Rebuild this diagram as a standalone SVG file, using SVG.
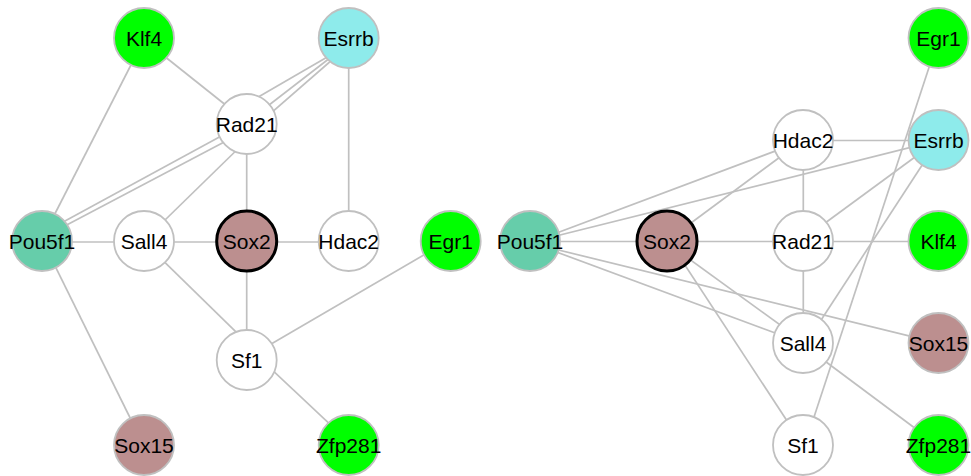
<svg xmlns="http://www.w3.org/2000/svg" width="971" height="476" viewBox="0 0 971 476">
<style>
.e{stroke:#c0c0c0;stroke-width:1.7;fill:none}
.n{stroke:#c0c0c0;stroke-width:1.8}
.w{fill:#ffffff}
.g{fill:#00ff00}
.c{fill:#8eebeb}
.t{fill:#66cdaa}
.r{fill:#bc8f8f}
.s{fill:#bc8f8f;stroke:#000000;stroke-width:3}
text{font-family:"Liberation Sans",Arial,sans-serif;font-size:21px;fill:#000;text-anchor:middle}
</style>
<rect width="971" height="476" fill="#ffffff"/>
<g id="edges">
<!-- left -->
<line class="e" x1="144" y1="40" x2="247" y2="122"/>
<line class="e" x1="145" y1="37.5" x2="41" y2="241"/>
<line class="e" x1="348" y1="45" x2="247" y2="103.5"/>
<line class="e" x1="348" y1="44" x2="247" y2="122"/>
<line class="e" x1="348" y1="46" x2="247" y2="134"/>
<line class="e" x1="247" y1="122" x2="42" y2="233.4"/>
<line class="e" x1="247" y1="130" x2="42" y2="238"/>
<line class="e" x1="247" y1="140" x2="144" y2="240.5"/>
<line class="e" x1="246.7" y1="124" x2="246.7" y2="241"/>
<line class="e" x1="348.7" y1="38" x2="348.7" y2="241"/>
<line class="e" x1="42" y1="242" x2="348.7" y2="242"/>
<line class="e" x1="144" y1="242" x2="246.7" y2="342.4"/>
<line class="e" x1="246.7" y1="241" x2="246.7" y2="360"/>
<line class="e" x1="450.7" y1="239.3" x2="246.7" y2="358.2"/>
<line class="e" x1="246.7" y1="346" x2="348.7" y2="441.8"/>
<line class="e" x1="42.7" y1="241" x2="143.5" y2="445"/>
<!-- right -->
<line class="e" x1="803" y1="140.5" x2="938.5" y2="140.5"/>
<line class="e" x1="803" y1="140.6" x2="530" y2="243"/>
<line class="e" x1="803" y1="140" x2="667" y2="240.7"/>
<line class="e" x1="938.5" y1="140.4" x2="530" y2="242.5"/>
<line class="e" x1="803.3" y1="140" x2="803.3" y2="343"/>
<line class="e" x1="938.5" y1="139.8" x2="803" y2="239.3"/>
<line class="e" x1="938.5" y1="140" x2="803" y2="347.8"/>
<line class="e" x1="938.7" y1="38" x2="804.8" y2="445"/>
<line class="e" x1="530" y1="241.5" x2="938.5" y2="241.5"/>
<line class="e" x1="530" y1="242.2" x2="803" y2="343.3"/>
<line class="e" x1="530" y1="243" x2="938.5" y2="343.2"/>
<line class="e" x1="667" y1="242.9" x2="803" y2="341.5"/>
<line class="e" x1="667" y1="237.7" x2="803" y2="445.2"/>
<line class="e" x1="803" y1="344.7" x2="938.5" y2="445.8"/>
</g>
<!-- left graph nodes -->
<g id="L-Klf4"><circle class="n g" cx="144" cy="38" r="30"/><text x="144" y="45.5">Klf4</text></g>
<g id="L-Esrrb"><circle class="n c" cx="348.7" cy="38" r="30"/><text x="348.7" y="45.5">Esrrb</text></g>
<g id="L-Rad21"><circle class="n w" cx="246.7" cy="124" r="30"/><text x="246.7" y="131.5">Rad21</text></g>
<g id="L-Pou5f1"><circle class="n t" cx="42" cy="241" r="30"/><text x="42" y="248.5">Pou5f1</text></g>
<g id="L-Sall4"><circle class="n w" cx="144" cy="241" r="30"/><text x="144" y="248.5">Sall4</text></g>
<g id="L-Sox2"><circle class="s" cx="246.7" cy="241" r="30"/><text x="246.7" y="248.5">Sox2</text></g>
<g id="L-Hdac2"><circle class="n w" cx="348.7" cy="241" r="30"/><text x="348.7" y="248.5">Hdac2</text></g>
<g id="L-Egr1"><circle class="n g" cx="450.7" cy="241" r="30"/><text x="450.7" y="248.5">Egr1</text></g>
<g id="L-Sf1"><circle class="n w" cx="246.7" cy="360" r="30"/><text x="246.7" y="367.5">Sf1</text></g>
<g id="L-Sox15"><circle class="n r" cx="144" cy="445" r="30"/><text x="144" y="452.5">Sox15</text></g>
<g id="L-Zfp281"><circle class="n g" cx="348.7" cy="445" r="30"/><text x="348.7" y="452.5">Zfp281</text></g>
<!-- right graph nodes -->
<g id="R-Egr1"><circle class="n g" cx="938.5" cy="38" r="30"/><text x="938.5" y="45.5">Egr1</text></g>
<g id="R-Hdac2"><circle class="n w" cx="803" cy="140" r="30"/><text x="803" y="147.5">Hdac2</text></g>
<g id="R-Esrrb"><circle class="n c" cx="938.5" cy="140" r="30"/><text x="938.5" y="147.5">Esrrb</text></g>
<g id="R-Pou5f1"><circle class="n t" cx="530" cy="241" r="30"/><text x="530" y="248.5">Pou5f1</text></g>
<g id="R-Sox2"><circle class="s" cx="667" cy="241" r="30"/><text x="667" y="248.5">Sox2</text></g>
<g id="R-Rad21"><circle class="n w" cx="803" cy="241" r="30"/><text x="803" y="248.5">Rad21</text></g>
<g id="R-Klf4"><circle class="n g" cx="938.5" cy="241" r="30"/><text x="938.5" y="248.5">Klf4</text></g>
<g id="R-Sall4"><circle class="n w" cx="803" cy="343" r="30"/><text x="803" y="350.5">Sall4</text></g>
<g id="R-Sox15"><circle class="n r" cx="938.5" cy="343" r="30"/><text x="938.5" y="350.5">Sox15</text></g>
<g id="R-Sf1"><circle class="n w" cx="803" cy="445" r="30"/><text x="803" y="452.5">Sf1</text></g>
<g id="R-Zfp281"><circle class="n g" cx="938.5" cy="445" r="30"/><text x="938.5" y="452.5">Zfp281</text></g>
</svg>
